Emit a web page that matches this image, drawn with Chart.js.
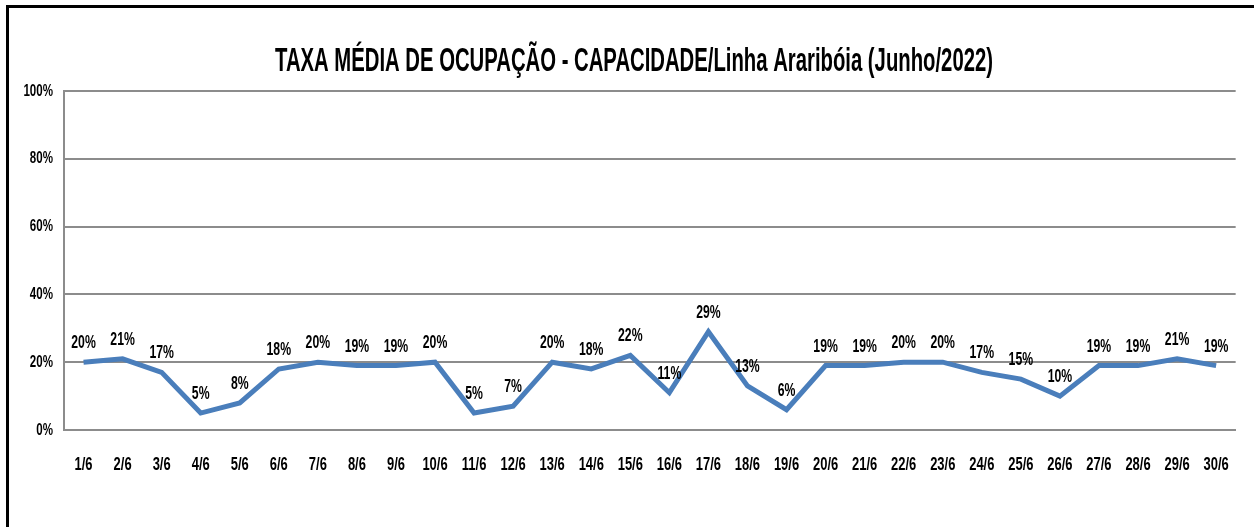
<!DOCTYPE html>
<html><head><meta charset="utf-8">
<script src="https://cdn.jsdelivr.net/npm/chart.js@4/dist/chart.umd.min.js"></script>
<style>
html,body{margin:0;padding:0;background:#fff;}
#wrap{position:relative;width:1258px;height:527px;}
#frame{position:absolute;left:6px;top:5px;width:1245px;height:530px;border-left:3px solid #000;border-top:3px solid #000;pointer-events:none;}
canvas{position:absolute;left:0;top:0;}
</style></head>
<body><div id="wrap"><canvas id="c" width="1258" height="527"></canvas><div id="frame"></div></div>
<script>
const titleText = "TAXA MÉDIA DE OCUPAÇÃO - CAPACIDADE/Linha Araribóia (Junho/2022)";
const days = ["1/6","2/6","3/6","4/6","5/6","6/6","7/6","8/6","9/6","10/6","11/6","12/6","13/6","14/6","15/6","16/6","17/6","18/6","19/6","20/6","21/6","22/6","23/6","24/6","25/6","26/6","27/6","28/6","29/6","30/6"];
const occupancy = [20,21,17,5,8,18,20,19,19,20,5,7,20,18,22,11,29,13,6,19,19,20,20,17,15,10,19,19,21,19];
const yTicks = [0,20,40,60,80,100];

const FONT = "'Liberation Sans',Arial,sans-serif";

function drawNarrow(ctx, text, x, y, size, align, sx){
  ctx.save();
  ctx.font = "bold " + size + "px " + FONT;
  ctx.fillStyle = "#000";
  ctx.textBaseline = "middle";
  ctx.textAlign = align;
  ctx.translate(x, y);
  ctx.scale(sx, 1);
  ctx.fillText(text, 0, 0);
  ctx.restore();
}

const textPlugin = {
  id:'narrowText',
  afterDraw(chart){
    const ctx = chart.ctx;
    const xs = chart.scales.x, ys = chart.scales.y;
    ctx.save();
    ctx.font = "bold 33px " + FONT;
    const w = ctx.measureText(titleText).width;
    ctx.restore();
    drawNarrow(ctx, titleText, 634, 62, 33, 'center', 718 / w);
    yTicks.forEach(v => drawNarrow(ctx, v + '%', 53, ys.getPixelForValue(v), 17, 'right', 0.68));
    days.forEach((d,i) => drawNarrow(ctx, d, xs.getPixelForValue(i), 465, 18, 'center', 0.72));
    const meta = chart.getDatasetMeta(0);
    meta.data.forEach((pt,i) => drawNarrow(ctx, occupancy[i] + '%', pt.x, pt.y - 19, 18, 'center', 0.68));
  }
};

new Chart(document.getElementById('c'), {
  type:'line',
  data:{labels:days, datasets:[{data:occupancy, borderColor:'#4a7ebb', borderWidth:5, pointRadius:0, tension:0, fill:false}]},
  options:{
    responsive:false, animation:false,
    layout:{padding:{left:0,right:16,top:91,bottom:0}},
    plugins:{legend:{display:false}, tooltip:{enabled:false}, title:{display:false}},
    scales:{
      x:{
        offset:true,
        grid:{display:false, drawTicks:false},
        border:{display:true, color:'#8c8c8c', width:2},
        ticks:{padding:27, color:'rgba(0,0,0,0)', font:{size:15}, maxRotation:0, autoSkip:false},
        afterFit(s){ s.height = 97; }
      },
      y:{
        min:0, max:100,
        afterBuildTicks(s){ s.ticks = yTicks.map(v=>({value:v})); },
        grid:{color:'#8c8c8c', lineWidth:2, drawTicks:false},
        border:{display:true, color:'#8c8c8c', width:2},
        ticks:{padding:10, color:'rgba(0,0,0,0)', font:{size:1}, callback:v=>v+'%'},
        afterFit(s){ s.width = 64; }
      }
    }
  },
  plugins:[textPlugin]
});
</script></body></html>
